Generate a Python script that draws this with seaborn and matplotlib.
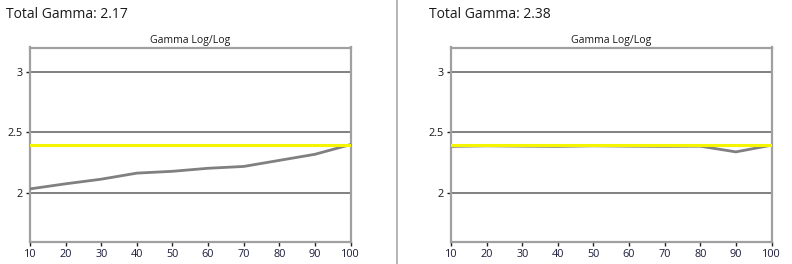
import matplotlib
matplotlib.use("Agg")
import matplotlib.pyplot as plt
import seaborn as sns
import pandas as pd

levels = [10, 20, 30, 40, 50, 60, 70, 80, 90, 100]
gamma_left = [2.035, 2.077, 2.115, 2.165, 2.18, 2.205, 2.22, 2.27, 2.32, 2.40]
gamma_right = [2.385, 2.39, 2.387, 2.385, 2.39, 2.387, 2.385, 2.387, 2.34, 2.395]
target = 2.4
titles = ["Total Gamma: 2.17", "Total Gamma: 2.38"]
subtitle = "Gamma Log/Log"
yticks = [2, 2.5, 3]
ytick_labels = ["2", "2.5", "3"]

sns.set_theme(style="white")
plt.rcParams['font.family'] = ['Open Sans', 'DejaVu Sans']

fig = plt.figure(figsize=(7.92, 2.64), dpi=100)
W, H = 792, 264
panels = [
    (30, 350.5, 6, gamma_left, titles[0]),
    (451, 771.5, 429, gamma_right, titles[1]),
]
top, bottom = 47.5, 241.7
for x0, x1, tx, vals, title in panels:
    ax = fig.add_axes([x0 / W, 1 - bottom / H, (x1 - x0) / W, (bottom - top) / H])
    df = pd.DataFrame({"level": levels, "gamma": vals})
    for y in yticks:
        ax.axhline(y, color="#808080", lw=1.4, zorder=1)
    sns.lineplot(data=df, x="level", y="gamma", ax=ax, color="#808080", lw=2.0, zorder=3)
    ax.axhline(target, color="#f5f500", lw=2.2, zorder=4)
    ax.set_xlim(10, 100)
    ax.set_ylim(1.6, 3.2)
    ax.set_xticks(levels)
    ax.set_xticklabels([str(v) for v in levels], fontsize=7.8, color="#1a1a3a")
    ax.set_yticks(yticks)
    ax.set_yticklabels(ytick_labels, fontsize=7.8, color="#1a1a1a")
    ax.tick_params(axis="both", which="both", direction="out", length=3, width=1.0,
                   color="#202020", pad=2, bottom=True, left=True)
    ax.set_xlabel("")
    ax.set_ylabel("")
    for sp in ax.spines.values():
        sp.set_color("#a0a0a0")
        sp.set_linewidth(1.6)
    ax.set_title(subtitle, fontsize=7.6, color="#1a1a1a", pad=3)
    fig.text(tx / W, 1 - 14.5 / H, title, fontsize=10, color="#1a1a1a", va="center", ha="left")

fig.add_artist(plt.Line2D([396.5 / W, 396.5 / W], [0, 1], color="#a8a8a8", lw=1.2))
fig.savefig("out.png", dpi=100)
